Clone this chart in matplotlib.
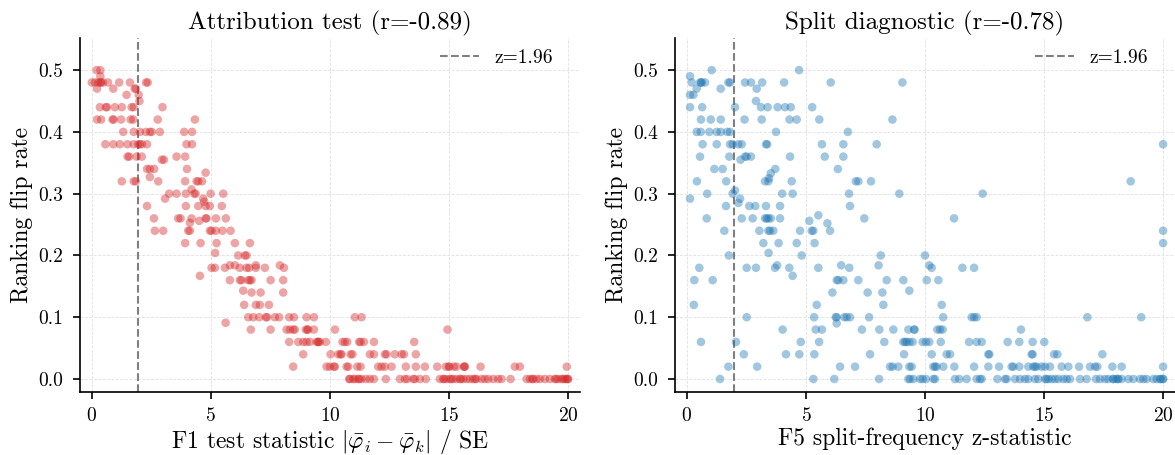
import matplotlib
matplotlib.use("Agg")
import matplotlib.pyplot as plt
import numpy as np

plt.rcParams['font.family'] = 'serif'
plt.rcParams['font.serif'] = ['cmr10']
plt.rcParams['mathtext.fontset'] = 'cm'
plt.rcParams['axes.formatter.use_mathtext'] = True

threshold = 1.96
titles = ["Attribution test (r=-0.89)", "Split diagnostic (r=-0.78)"]
xlabels = [r"F1 test statistic $|\bar{\varphi}_i - \bar{\varphi}_k|$ / SE",
           "F5 split-frequency z-statistic"]
ylabel = "Ranking flip rate"
xticks = [0, 5, 10, 15, 20]
yticks = [0.0, 0.1, 0.2, 0.3, 0.4, 0.5]

# ---- Panel 1: F1 statistic vs flip rate (rows by flip-rate level) ----
f1_levels = [0.50, 0.49, 0.48, 0.47, 0.46, 0.45, 0.44, 0.42, 0.40, 0.38, 0.36, 0.355,
             0.34, 0.334, 0.327, 0.32, 0.307, 0.30, 0.292, 0.287, 0.28, 0.26, 0.256,
             0.253, 0.24, 0.22, 0.204, 0.20, 0.184, 0.18, 0.167, 0.16, 0.143, 0.14,
             0.12, 0.10, 0.091, 0.08, 0.06, 0.04, 0.02, 0.0]
f1_stats = [
    [0.2, 0.36],
    [0.36],
    [0.0, 0.13, 0.27, 0.36, 0.38, 0.47, 0.68, 1.15, 1.6, 2.28, 2.35],
    [0.22, 0.9, 1.8, 1.85],
    [1.46, 1.97],
    [2.0],
    [0.34, 0.59, 0.64, 0.97, 1.26, 1.67, 1.76, 2.97],
    [0.22, 0.39, 0.87, 0.92, 1.23, 1.63, 1.74, 2.77, 4.33],
    [1.32, 1.76, 2.02, 2.27, 2.44, 2.52, 2.86, 3.88, 4.21],
    [0.57, 0.9, 1.18, 1.5, 1.76, 1.95, 2.02, 2.11, 2.32, 3.98, 4.21],
    [1.5, 1.57, 1.88, 2.1, 3.56, 3.92],
    [2.94, 3.03],
    [2.32, 2.44, 2.62, 4.0],
    [4.78],
    [2.44],
    [1.26, 1.76, 1.85, 2.79, 3.92, 4.4, 4.47, 4.63],
    [4.19],
    [3.25, 3.56, 3.95, 4.3, 4.36, 4.99, 5.52],
    [3.08, 4.68],
    [4.72],
    [2.32, 3.95, 4.47, 4.78, 4.96, 5.46],
    [2.61, 3.63, 3.73, 4.19, 4.78, 4.82, 5.21, 5.63],
    [4.51],
    [4.12],
    [2.65, 3.0, 4.05, 4.12, 4.96, 5.03, 5.21, 5.49, 5.83],
    [3.92, 4.57, 5.24, 6.01, 6.64],
    [5.18],
    [6.15, 6.43, 6.5],
    [5.8, 6.01, 6.89, 7.9],
    [5.03, 5.17, 5.59, 6.22, 6.5, 6.61, 6.89, 7.27, 8.07],
    [4.54],
    [5.8, 6.22, 6.29, 6.57, 6.64, 6.71, 7.51, 8.04],
    [6.36],
    [6.71, 7.09, 8.04],
    [6.4, 6.89, 7.06, 7.44],
    [6.57, 6.78, 7.03, 7.31, 7.36, 7.69, 7.87, 8.29, 8.49, 9.02, 9.33, 11.05, 11.33],
    [5.62],
    [6.68, 7.51, 8.18, 8.32, 8.46, 8.53, 8.99, 9.05, 9.09, 9.33, 10.21, 14.94],
    [8.29, 8.67, 8.88, 9.02, 9.16, 9.44, 9.5, 9.52, 9.58, 9.83, 10.53, 10.63, 10.73,
     11.23, 11.29, 11.43, 11.85, 13.54],
    [8.88, 10.03, 10.35, 10.45, 10.49, 10.87, 10.95, 11.68, 11.85, 12.31, 12.38, 12.73,
     13.01, 13.11, 13.61],
    [8.46, 9.86, 10.0, 10.17, 10.21, 10.7, 10.77, 11.15, 11.29, 12.03, 12.17, 12.31,
     12.59, 13.19, 13.61, 13.99, 14.51, 14.87, 15.0, 15.01, 15.21, 15.32, 15.63, 15.65,
     15.67, 16.33, 17.77, 17.98, 19.95],
    [10.81, 10.84, 10.98, 11.05, 11.19, 11.23, 11.33, 11.51, 11.68, 11.85, 12.35, 12.94,
     13.15, 13.25, 13.5, 13.57, 13.78, 14.03, 14.62, 14.76, 14.8, 14.9, 15.04, 15.1,
     15.18, 15.32, 15.46, 15.5, 15.6, 15.74, 15.88, 16.02, 16.1, 16.16, 16.37, 16.51,
     16.65, 16.86, 17.07, 17.21, 17.59, 18.26, 18.4, 18.5, 18.54, 18.68, 18.82, 19.03,
     19.24, 19.45, 19.5, 19.59, 19.73, 19.8, 19.87, 19.94, 20.0, 20.0],
]

# ---- Panel 2: F5 statistic vs flip rate ----
f5_levels = [0.50, 0.49, 0.48, 0.47, 0.46, 0.45, 0.44, 0.42, 0.40, 0.38, 0.36, 0.355,
             0.34, 0.333, 0.325, 0.32, 0.305, 0.30, 0.292, 0.285, 0.28, 0.265, 0.26,
             0.256, 0.252, 0.24, 0.22, 0.204, 0.20, 0.184, 0.18, 0.167, 0.16, 0.143,
             0.14, 0.12, 0.10, 0.09, 0.08, 0.06, 0.04, 0.02, 0.0]
f5_stats = [
    [1.04, 4.71],
    [0.13],
    [0.2, 0.55, 0.6, 0.62, 0.76, 1.74, 1.81, 2.44, 2.69, 3.16, 4.08, 6.04, 9.05],
    [0.41, 1.42, 2.93],
    [0.13, 0.27],
    [2.9],
    [0.13, 0.64, 2.02, 3.11, 3.39, 3.81, 4.12, 4.36, 5.26],
    [0.59, 1.0, 1.42, 2.42, 3.14, 4.31, 4.61, 5.56, 8.63],
    [0.41, 0.58, 0.94, 1.25, 1.42, 1.69, 1.81, 3.74, 6.76],
    [0.66, 1.25, 1.81, 1.92, 2.16, 2.3, 3.32, 3.37, 5.67, 6.57, 7.97, 20.0],
    [0.55, 1.78, 2.44, 2.51, 2.69, 4.33, 5.79, 6.57],
    [2.25],
    [1.15, 1.5, 3.71, 6.34],
    [3.52],
    [3.45],
    [0.42, 1.65, 3.28, 3.42, 4.4, 7.09, 7.2, 7.73, 18.64],
    [2.02],
    [0.85, 1.92, 4.0, 4.44, 6.81, 8.92, 12.42],
    [0.13, 2.23],
    [2.16],
    [1.64, 2.62, 2.87, 3.32, 3.91, 6.85],
    [5.52],
    [0.83, 2.3, 2.76, 3.28, 3.35, 3.42, 3.52, 3.91, 7.45, 11.22],
    [5.14],
    [5.9],
    [1.57, 3.04, 3.42, 3.49, 3.63, 4.75, 5.24, 5.31, 6.01, 20.0],
    [3.21, 3.85, 4.61, 5.36, 20.0],
    [3.43],
    [1.76, 4.82, 8.14, 10.0],
    [3.79, 6.48, 8.05, 10.18],
    [0.52, 2.51, 2.9, 3.7, 4.3, 5.52, 6.82, 10.28, 11.57, 12.06],
    [4.44],
    [0.31, 1.08, 6.29, 6.36, 6.57, 7.2, 8.39, 9.09, 10.07, 10.56],
    [9.34],
    [6.11, 7.59, 8.21],
    [0.29, 5.45, 8.25, 10.7],
    [2.51, 5.34, 6.25, 6.29, 6.61, 6.71, 6.85, 7.65, 10.76, 11.96, 12.06, 12.17, 16.82,
     19.08],
    [6.29],
    [4.02, 5.41, 5.67, 7.35, 8.08, 8.67, 9.3, 9.54, 9.56, 10.52, 10.63, 10.74, 14.03],
    [0.59, 2.06, 4.78, 5.55, 8.29, 9.09, 9.16, 9.23, 9.34, 9.48, 9.9, 10.04, 10.18,
     10.66, 11.85, 12.17, 12.38, 13.47, 13.96, 14.52, 15.01],
    [2.39, 4.16, 4.72, 5.35, 7.69, 9.12, 10.28, 10.91, 11.05, 12.66, 12.7, 14.48, 14.52,
     15.42, 15.56, 17.45],
    [1.74, 2.95, 6.43, 7.06, 8.53, 8.64, 8.88, 9.34, 9.44, 10.35, 10.42, 10.49, 10.77,
     11.23, 12.06, 12.66, 13.11, 13.64, 13.71, 13.96, 14.34, 14.55, 14.62, 14.69, 14.9,
     15.04, 15.25, 15.74, 16.02, 16.47, 16.93, 17.14, 17.24, 17.87, 18.26, 20.0],
    [1.39, 5.31, 6.19, 8.07, 9.3, 9.37, 9.51, 9.79, 9.9, 10.04, 10.35, 10.42, 11.26,
     11.44, 11.75, 12.17, 12.31, 12.38, 13.04, 13.36, 13.43, 13.78, 13.99, 14.2, 14.34,
     14.62, 14.76, 15.04, 15.1, 15.18, 15.32, 15.46, 15.6, 15.81, 15.95, 16.09, 16.51,
     16.79, 17.18, 17.35, 17.56, 17.7, 17.9, 17.91, 18.03, 18.1, 18.12, 18.26, 18.54,
     18.75, 19.03, 19.17, 19.31, 19.59, 19.73, 19.87, 19.9, 20.0, 20.0],
]

colors = ["#d62728", "#1f77b4"]


def expand(levels, stats):
    xs, ys = [], []
    for lv, row in zip(levels, stats):
        xs.extend(row)
        ys.extend([lv] * len(row))
    return np.array(xs), np.array(ys)


fig = plt.figure(figsize=(11.75, 4.55), dpi=100)
ax1 = fig.add_axes([0.068, 0.1385, 0.4255, 0.778])
ax2 = fig.add_axes([0.5745, 0.1385, 0.4255, 0.778])

panels = [(ax1, f1_levels, f1_stats), (ax2, f5_levels, f5_stats)]
for i, (ax, lv, st) in enumerate(panels):
    x, y = expand(lv, st)
    ax.scatter(x, y, s=38, color=colors[i], alpha=0.42, edgecolors='none', zorder=3)
    ax.axvline(threshold, color='gray', ls='--', lw=1.5, label=f"z={threshold}", zorder=2)
    ax.set_xlim(-0.5, 20.5)
    ax.set_ylim(-0.021, 0.552)
    ax.set_xticks(xticks)
    ax.set_yticks(yticks)
    ax.set_yticklabels([f"{t:.1f}" for t in yticks])
    ax.grid(True, color='#e0e0e0', ls='--', lw=0.6)
    ax.set_axisbelow(True)
    ax.spines['top'].set_visible(False)
    ax.spines['right'].set_visible(False)
    ax.spines['left'].set_linewidth(1.2)
    ax.spines['bottom'].set_linewidth(1.2)
    ax.tick_params(labelsize=14, width=1.2, length=5)
    ax.tick_params(axis='y', pad=7)
    ax.tick_params(axis='x', pad=6)
    ax.set_title(titles[i], fontsize=18)
    ax.set_xlabel(xlabels[i], fontsize=17, labelpad=1.5)
    ax.set_ylabel(ylabel, fontsize=17)
    ax.legend(loc='upper right', bbox_to_anchor=(0.962, 0.99), borderaxespad=0,
              frameon=False, fontsize=14)

fig.savefig("out.png", dpi=100)
